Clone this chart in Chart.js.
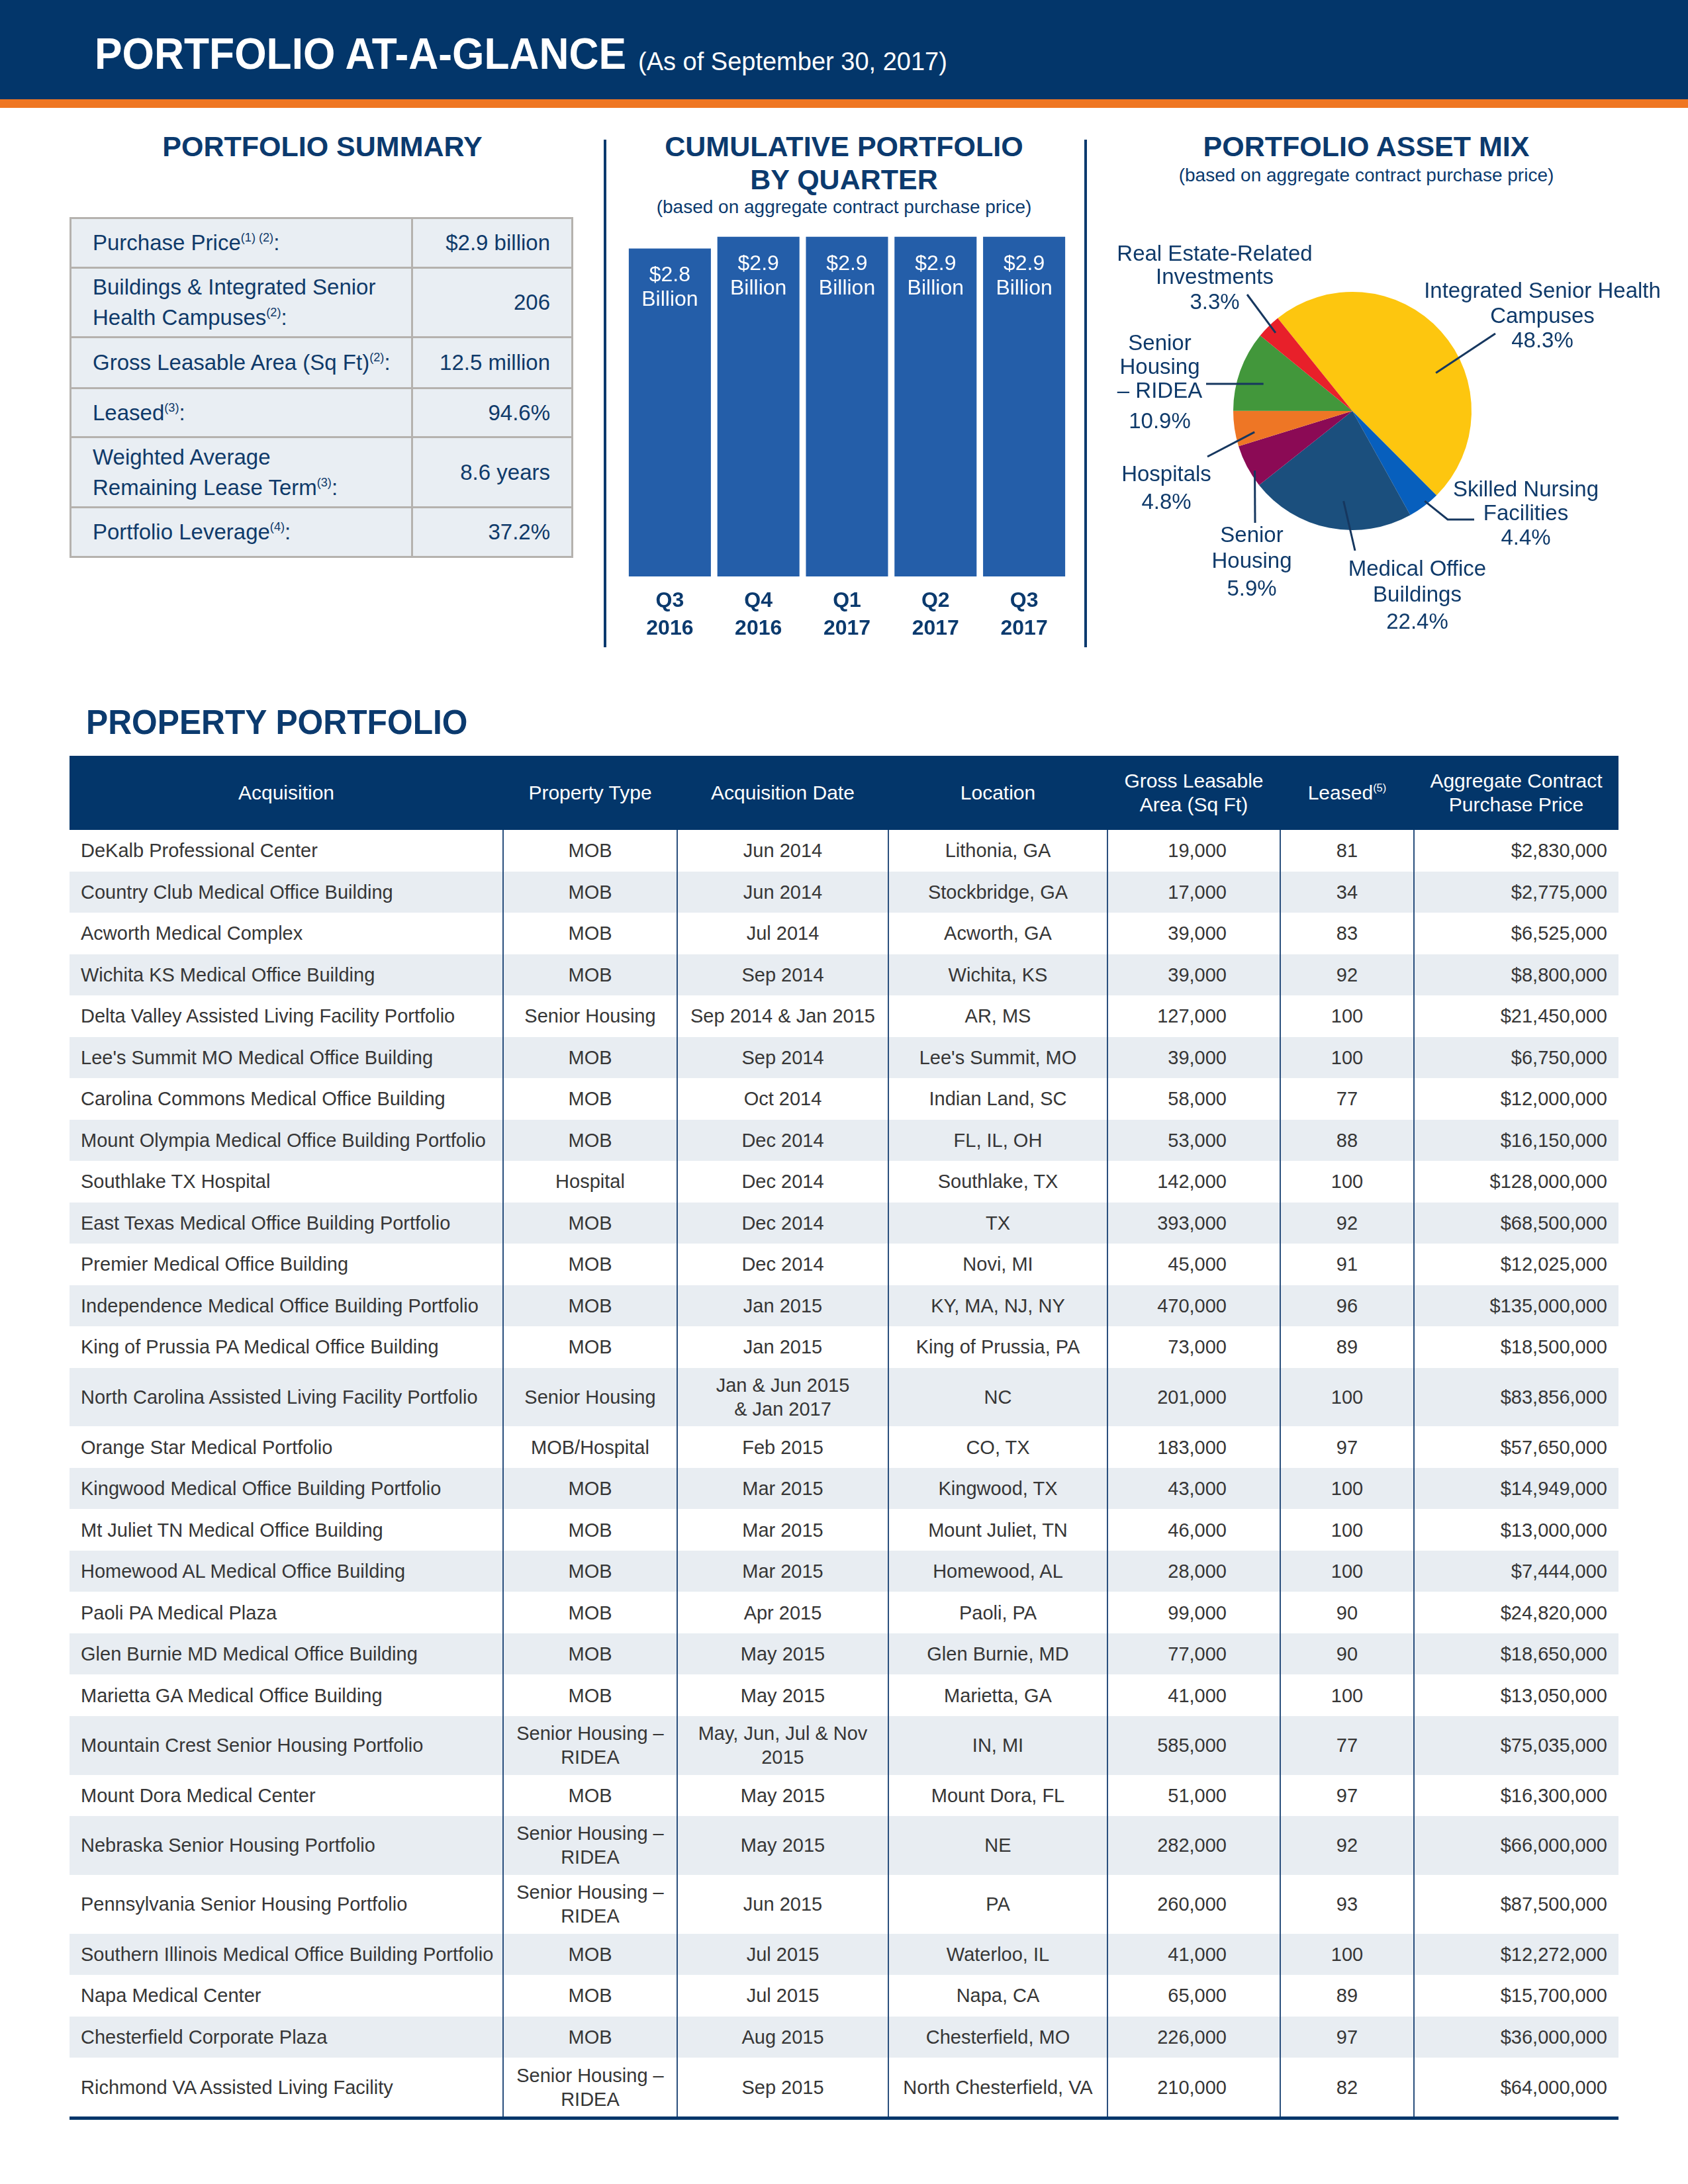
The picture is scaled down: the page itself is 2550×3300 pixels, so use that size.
<!DOCTYPE html>
<html>
<head>
<meta charset="utf-8">
<script src="https://cdn.jsdelivr.net/npm/chart.js@4.4.0/dist/chart.umd.min.js"></script>
<style>
  body { margin: 0; width: 2550px; height: 3300px; position: relative; overflow: hidden; background: #fff;
         font-family: 'Liberation Sans', Arial, sans-serif; }
  .abs { position: absolute; }
  .band { left: 0; top: 0; width: 2550px; height: 150px; background: #03366a; }
  .orange { left: 0; top: 150px; width: 2550px; height: 13px; background: #ef7622; }
  .title { left: 143px; top: 41px; color: #fff; font-weight: bold; font-size: 67px; line-height: 80px;
           white-space: nowrap; transform: scaleX(0.93); transform-origin: left center; }
  .subtitle { left: 964px; top: 70px; color: #fff; font-size: 38px; line-height: 46px; white-space: nowrap; }
  .head { color: #0b3a6e; font-weight: bold; font-size: 43px; line-height: 50px; text-align: center; white-space: nowrap; width: 800px; }
  .note { color: #0b3a6e; font-size: 28px; line-height: 34px; text-align: center; white-space: nowrap; width: 800px; }
  .vline { width: 4px; background: #0b3a6e; top: 211px; height: 767px; }
  #summary { left: 105px; top: 328px; width: 761px; border-collapse: collapse; }
  #summary td { border: 3px solid #b5b2ae; background: #e9eef3; color: #0f3a6a; font-size: 33px; line-height: 46px; }
  #summary td.k { padding-left: 32px; width: 480px; }
  #summary td.v { text-align: right; padding-right: 32px; }
  sup { font-size: 0.55em; line-height: 0; vertical-align: 0.7em; }
  .plabel { color: #0f3a6a; font-size: 33px; line-height: 36px; text-align: center; width: 500px; white-space: nowrap; }
  .pp { left: 130px; top: 1062px; color: #0b3a6e; font-weight: bold; font-size: 51px; line-height: 60px;
        white-space: nowrap; transform: scaleX(0.975); transform-origin: left center; }
  #props { left: 105px; top: 1142px; width: 2340px; border-collapse: collapse; table-layout: fixed;
           border-bottom: 5px solid #03366a; }
  #props th { background: #03366a; color: #fff; font-weight: normal; font-size: 30px; line-height: 36px;
              height: 112px; padding: 0 6px; text-align: center; }
  #props td { font-size: 29px; line-height: 36px; color: #363636; text-align: center; padding: 0 10px;
              border-left: 2px solid #2a4f7d; white-space: nowrap; }
  #props td:first-child { border-left: none; text-align: left; padding-left: 17px; }
  #props td.num { text-align: right; padding-right: 80px; }
  #props td.price { text-align: right; padding-right: 17px; }
  #props tr.short td { height: 62.5px; }
  #props tr.tall td { height: 88.8px; }
  #props tr.alt td { background: #e8edf2; }
</style>
</head>
<body>
<div class="abs band"></div>
<div class="abs orange"></div>
<div class="abs title">PORTFOLIO AT-A-GLANCE</div>
<div class="abs subtitle">(As of September 30, 2017)</div>

<div class="abs head" style="left:87px;top:196px">PORTFOLIO SUMMARY</div>
<div class="abs head" style="left:875px;top:196px">CUMULATIVE PORTFOLIO</div>
<div class="abs head" style="left:875px;top:246px">BY QUARTER</div>
<div class="abs note" style="left:875px;top:296px">(based on aggregate contract purchase price)</div>
<div class="abs head" style="left:1664px;top:196px">PORTFOLIO ASSET MIX</div>
<div class="abs note" style="left:1664px;top:248px">(based on aggregate contract purchase price)</div>

<div class="abs vline" style="left:912px"></div>
<div class="abs vline" style="left:1638px"></div>

<table id="summary" class="abs"></table>

<canvas id="barChart" class="abs" width="760" height="700" style="left:900px;top:300px"></canvas>
<canvas id="pieChart" class="abs" width="880" height="660" style="left:1660px;top:340px"></canvas>
<div id="pieLabels"></div>

<div class="abs pp">PROPERTY PORTFOLIO</div>
<table id="props" class="abs"></table>

<script>
// summary box
const SUMMARY_LABELS = ['Purchase Price', 'Buildings & Integrated Senior\nHealth Campuses', 'Gross Leasable Area (Sq Ft)',
                        'Leased', 'Weighted Average\nRemaining Lease Term', 'Portfolio Leverage'];
const SUMMARY_NOTES  = ['(1) (2)', '(2)', '(2)', '(3)', '(3)', '(4)'];
const SUMMARY_VALUES = ['$2.9 billion', '206', '12.5 million', '94.6%', '8.6 years', '37.2%'];

// cumulative portfolio, $ billions
const QUARTERS   = [['Q3', '2016'], ['Q4', '2016'], ['Q1', '2017'], ['Q2', '2017'], ['Q3', '2017']];
const CUMULATIVE = [2.8, 2.9, 2.9, 2.9, 2.9];

// asset mix, % of aggregate contract purchase price
const ASSET_NAMES  = ['Integrated Senior Health Campuses', 'Skilled Nursing Facilities', 'Medical Office Buildings',
                      'Senior Housing', 'Hospitals', 'Senior Housing – RIDEA', 'Real Estate-Related Investments'];
const ASSET_LINES  = [['Integrated Senior Health', 'Campuses'], ['Skilled Nursing', 'Facilities'], ['Medical Office', 'Buildings'],
                      ['Senior', 'Housing'], ['Hospitals'], ['Senior', 'Housing', '– RIDEA'], ['Real Estate-Related', 'Investments']];
const ASSET_SHARES = [48.3, 4.4, 22.4, 5.9, 4.8, 10.9, 3.3];

// property portfolio
const ACQUISITIONS = [
  'DeKalb Professional Center', 'Country Club Medical Office Building', 'Acworth Medical Complex',
  'Wichita KS Medical Office Building', 'Delta Valley Assisted Living Facility Portfolio', "Lee's Summit MO Medical Office Building",
  'Carolina Commons Medical Office Building', 'Mount Olympia Medical Office Building Portfolio', 'Southlake TX Hospital',
  'East Texas Medical Office Building Portfolio', 'Premier Medical Office Building', 'Independence Medical Office Building Portfolio',
  'King of Prussia PA Medical Office Building', 'North Carolina Assisted Living Facility Portfolio', 'Orange Star Medical Portfolio',
  'Kingwood Medical Office Building Portfolio', 'Mt Juliet TN Medical Office Building', 'Homewood AL Medical Office Building',
  'Paoli PA Medical Plaza', 'Glen Burnie MD Medical Office Building', 'Marietta GA Medical Office Building',
  'Mountain Crest Senior Housing Portfolio', 'Mount Dora Medical Center', 'Nebraska Senior Housing Portfolio',
  'Pennsylvania Senior Housing Portfolio', 'Southern Illinois Medical Office Building Portfolio', 'Napa Medical Center',
  'Chesterfield Corporate Plaza', 'Richmond VA Assisted Living Facility'
];
const SHR = 'Senior Housing –\nRIDEA';
const PROPERTY_TYPES = ['MOB', 'MOB', 'MOB', 'MOB', 'Senior Housing', 'MOB', 'MOB', 'MOB', 'Hospital', 'MOB', 'MOB', 'MOB', 'MOB',
  'Senior Housing', 'MOB/Hospital', 'MOB', 'MOB', 'MOB', 'MOB', 'MOB', 'MOB', SHR, 'MOB', SHR, SHR, 'MOB', 'MOB', 'MOB', SHR];
const ACQ_DATES = ['Jun 2014', 'Jun 2014', 'Jul 2014', 'Sep 2014', 'Sep 2014 & Jan 2015', 'Sep 2014', 'Oct 2014', 'Dec 2014',
  'Dec 2014', 'Dec 2014', 'Dec 2014', 'Jan 2015', 'Jan 2015', 'Jan & Jun 2015\n& Jan 2017', 'Feb 2015', 'Mar 2015', 'Mar 2015',
  'Mar 2015', 'Apr 2015', 'May 2015', 'May 2015', 'May, Jun, Jul & Nov\n2015', 'May 2015', 'May 2015', 'Jun 2015', 'Jul 2015',
  'Jul 2015', 'Aug 2015', 'Sep 2015'];
const LOCATIONS = ['Lithonia, GA', 'Stockbridge, GA', 'Acworth, GA', 'Wichita, KS', 'AR, MS', "Lee's Summit, MO", 'Indian Land, SC',
  'FL, IL, OH', 'Southlake, TX', 'TX', 'Novi, MI', 'KY, MA, NJ, NY', 'King of Prussia, PA', 'NC', 'CO, TX', 'Kingwood, TX',
  'Mount Juliet, TN', 'Homewood, AL', 'Paoli, PA', 'Glen Burnie, MD', 'Marietta, GA', 'IN, MI', 'Mount Dora, FL', 'NE', 'PA',
  'Waterloo, IL', 'Napa, CA', 'Chesterfield, MO', 'North Chesterfield, VA'];
const AREA_SQFT = [19000, 17000, 39000, 39000, 127000, 39000, 58000, 53000, 142000, 393000, 45000, 470000, 73000, 201000,
  183000, 43000, 46000, 28000, 99000, 77000, 41000, 585000, 51000, 282000, 260000, 41000, 65000, 226000, 210000];
const LEASED_PCT = [81, 34, 83, 92, 100, 100, 77, 88, 100, 92, 91, 96, 89, 100, 97, 100, 100, 100, 90, 90, 100, 77, 97, 92, 93,
  100, 89, 97, 82];
const PRICES = [2830000, 2775000, 6525000, 8800000, 21450000, 6750000, 12000000, 16150000, 128000000, 68500000, 12025000,
  135000000, 18500000, 83856000, 57650000, 14949000, 13000000, 7444000, 24820000, 18650000, 13050000, 75035000, 16300000,
  66000000, 87500000, 12272000, 15700000, 36000000, 64000000];

// ───────────────────────────────────────────────────────────────────────────

const FONT = "'Liberation Sans', Arial, sans-serif";
const NAVY = '#0b3a6e';
const ASSET_COLORS = ['#fdc60f', '#075fbd', '#1b4f7d', '#8b0a55', '#ee7625', '#42973b', '#e8202a'];

const br = s => s.replace(/&/g, '&amp;').replace(/\n/g, '<br>');

// summary table
document.getElementById('summary').innerHTML = SUMMARY_LABELS.map((l, i) => {
  const h = [75, 105, 77, 74, 106, 75][i];
  return `<tr style="height:${h}px"><td class="k">${br(l)}<sup>${SUMMARY_NOTES[i]}</sup>:</td><td class="v">${SUMMARY_VALUES[i]}</td></tr>`;
}).join('');

// bar chart
const barLabels = {
  id: 'barLabels',
  afterDatasetsDraw(chart) {
    const ctx = chart.ctx;
    ctx.save();
    ctx.fillStyle = '#fff';
    ctx.font = `32px ${FONT}`;
    ctx.textAlign = 'center';
    ctx.textBaseline = 'middle';
    chart.getDatasetMeta(0).data.forEach((bar, i) => {
      ctx.fillText('$' + CUMULATIVE[i].toFixed(1), bar.x, bar.y + 41);
      ctx.fillText('Billion', bar.x, bar.y + 78);
    });
    ctx.restore();
  }
};

new Chart(document.getElementById('barChart'), {
  type: 'bar',
  data: {
    labels: QUARTERS,
    datasets: [{ data: CUMULATIVE, backgroundColor: '#245ea9', borderWidth: 0, barPercentage: 0.927, categoryPercentage: 1 }]
  },
  options: {
    responsive: false,
    animation: false,
    layout: { padding: { left: 45, right: 46, top: 40, bottom: 21 } },
    plugins: { legend: { display: false }, tooltip: { enabled: false } },
    scales: {
      y: { display: false, min: 0, max: 3 },
      x: {
        grid: { display: false },
        border: { display: false },
        ticks: { color: NAVY, padding: 8, font: { family: FONT, size: 32, weight: 'bold', lineHeight: 1.3125 } }
      }
    }
  },
  plugins: [barLabels]
});

// pie chart, leader lines (positions in page px)
const PIE_LEFT = 1660, PIE_TOP = 340;
const LEADER_IN = [ // where along the slice (0..1) and how far out (fraction of radius)
  { t: 0.60, r: 0.77 }, { t: 0.39, r: 0.97 }, { t: 0.43, r: 0.76 }, { t: 0.33, r: 0.96 },
  { t: 0.29, r: 0.84 }, { t: 0.43, r: 0.78 }, { t: 0.52, r: 0.92 }
];
const LEADER_OUT = [
  [[2259, 504]], [[2187, 785], [2227, 785]], [[2047, 832]], [[1896, 790]],
  [[1824, 690]], [[1822, 580]], [[1884, 445]]
];
const LABEL_POS = [ // centre x, centre y of each text line (last one is the %)
  [2330, [439, 477, 514]], [2305, [739, 775, 812]], [2141, [859, 898, 939]], [1891, [808, 847, 889]],
  [1762, [716, 758]], [1752, [518, 554, 590, 636]], [1835, [383, 418, 456]]
];

const leaders = {
  id: 'leaders',
  afterDatasetsDraw(chart) {
    const ctx = chart.ctx;
    ctx.save();
    ctx.strokeStyle = '#16375f';
    ctx.lineWidth = 3;
    chart.getDatasetMeta(0).data.forEach((arc, i) => {
      const p = arc.getProps(['x', 'y', 'startAngle', 'endAngle', 'outerRadius'], true);
      const a = p.startAngle + LEADER_IN[i].t * (p.endAngle - p.startAngle);
      ctx.beginPath();
      ctx.moveTo(p.x + Math.cos(a) * p.outerRadius * LEADER_IN[i].r, p.y + Math.sin(a) * p.outerRadius * LEADER_IN[i].r);
      LEADER_OUT[i].forEach(([x, y]) => ctx.lineTo(x - PIE_LEFT, y - PIE_TOP));
      ctx.stroke();
    });
    ctx.restore();
  }
};

new Chart(document.getElementById('pieChart'), {
  type: 'pie',
  data: { labels: ASSET_NAMES, datasets: [{ data: ASSET_SHARES, backgroundColor: ASSET_COLORS, borderWidth: 0 }] },
  options: {
    responsive: false,
    animation: false,
    rotation: -38.8,
    layout: { padding: { left: 203, right: 317, top: 101, bottom: 199 } },
    plugins: { legend: { display: false }, tooltip: { enabled: false } }
  },
  plugins: [leaders]
});

document.getElementById('pieLabels').innerHTML = ASSET_LINES.map((lines, i) => {
  const [cx, ys] = LABEL_POS[i];
  const all = lines.concat([ASSET_SHARES[i].toFixed(1) + '%']);
  return all.map((t, j) =>
    `<div class="abs plabel" style="left:${cx - 250}px;top:${ys[j] - 18}px">${br(t)}</div>`).join('');
}).join('');

// property table
const fmt = n => n.toLocaleString('en-US');
let html = `<colgroup><col style="width:655px"><col style="width:263px"><col style="width:319px"><col style="width:331px">
  <col style="width:261px"><col style="width:202px"><col style="width:309px"></colgroup>
  <tr><th>Acquisition</th><th>Property Type</th><th>Acquisition Date</th><th>Location</th>
  <th>Gross Leasable<br>Area (Sq Ft)</th><th>Leased<sup>(5)</sup></th><th>Aggregate Contract<br>Purchase Price</th></tr>`;
ACQUISITIONS.forEach((name, i) => {
  const tall = [name, PROPERTY_TYPES[i], ACQ_DATES[i]].some(s => s.includes('\n'));
  html += `<tr class="${tall ? 'tall' : 'short'}${i % 2 ? ' alt' : ''}">
    <td>${br(name)}</td><td>${br(PROPERTY_TYPES[i])}</td><td>${br(ACQ_DATES[i])}</td><td>${br(LOCATIONS[i])}</td>
    <td class="num">${fmt(AREA_SQFT[i])}</td><td>${LEASED_PCT[i]}</td><td class="price">$${fmt(PRICES[i])}</td></tr>`;
});
document.getElementById('props').innerHTML = html;
</script>
</body>
</html>
